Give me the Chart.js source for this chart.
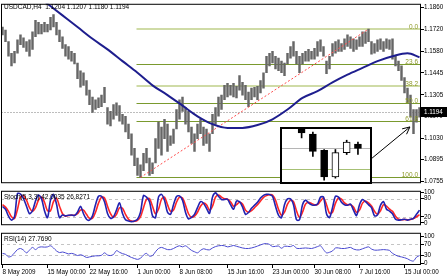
<!DOCTYPE html>
<html>
<head>
<meta charset="utf-8">
<script src="https://cdn.jsdelivr.net/npm/chart.js@4.4.1/dist/chart.umd.min.js"></script>
<style>
html,body{margin:0;padding:0;background:#fff;}
#wrap{position:relative;width:448px;height:280px;overflow:hidden;background:#fff;}
#wrap > canvas{position:absolute;left:0;}
#inset{position:absolute;left:280px;top:127px;width:88px;height:53px;border:2px solid #000;background:#fff;}
#insetChart{position:absolute;left:0;top:0;}
</style>
</head>
<body>
<div id="wrap">
  <canvas id="main" width="448" height="187" style="top:0px"></canvas>
  <canvas id="stoch" width="448" height="42" style="top:187px"></canvas>
  <canvas id="rsi" width="448" height="51" style="top:229px"></canvas>
  <div id="inset"><canvas id="insetChart" width="88" height="53"></canvas></div>
</div>
<script>
// ================= DATA =================

const symbolTitle = "USDCAD,H4  1.1204 1.1207 1.1180 1.1194";
const lastPrice = 1.1194;

// 4H bars (thinned), high / low
const highs = [
1.1737,1.1718,1.1644,1.1570,1.1582,1.1656,1.1687,1.1669,1.1644,1.1656,
1.1706,1.1780,1.1767,1.1755,1.1767,1.1755,1.1798,1.1817,1.1767,1.1718,
1.1675,1.1625,1.1613,1.1582,1.1570,1.1508,1.1459,1.1446,1.1397,1.1335,
1.1292,1.1274,1.1286,1.1304,1.1354,1.1224,1.1200,1.1243,1.1255,1.1237,
1.1181,1.1169,1.1119,1.1058,1.0965,1.0903,1.0860,1.0934,1.0965,1.0903,
1.0872,1.1027,1.1132,1.1101,1.1150,1.1119,1.1045,1.1088,1.1212,1.1274,
1.1292,1.1224,1.1200,1.1101,1.1058,1.1119,1.1150,1.1101,1.1088,1.1058,
1.1181,1.1224,1.1292,1.1304,1.1366,1.1379,1.1366,1.1379,1.1360,1.1428,
1.1385,1.1366,1.1323,1.1348,1.1354,1.1360,1.1397,1.1446,1.1551,1.1570,
1.1582,1.1551,1.1539,1.1520,1.1508,1.1570,1.1613,1.1644,1.1582,1.1551,
1.1570,1.1582,1.1595,1.1582,1.1601,1.1644,1.1656,1.1613,1.1520,1.1551,
1.1632,1.1644,1.1656,1.1632,1.1662,1.1687,1.1675,1.1662,1.1656,1.1675,
1.1706,1.1706,1.1724,1.1644,1.1632,1.1656,1.1662,1.1644,1.1662,1.1656,
1.1662,1.1551,1.1520,1.1490,1.1416,1.1348,1.1304,1.1212,1.1212,1.1224
];
const lows = [
1.1687,1.1644,1.1551,1.1490,1.1508,1.1570,1.1625,1.1607,1.1582,1.1551,
1.1595,1.1675,1.1693,1.1693,1.1706,1.1706,1.1718,1.1737,1.1687,1.1644,
1.1601,1.1551,1.1533,1.1520,1.1502,1.1409,1.1354,1.1366,1.1304,1.1243,
1.1193,1.1212,1.1224,1.1230,1.1255,1.1119,1.1107,1.1150,1.1175,1.1138,
1.1119,1.1070,1.1027,1.0922,1.0854,1.0792,1.0780,1.0823,1.0872,1.0792,
1.0804,1.0872,1.0965,1.0922,1.1027,1.0946,1.0984,1.0996,1.1088,1.1150,
1.1200,1.1119,1.1070,1.0996,1.0946,1.1027,1.1058,1.0984,1.0996,1.0946,
1.1058,1.1119,1.1169,1.1212,1.1274,1.1292,1.1304,1.1292,1.1286,1.1335,
1.1304,1.1274,1.1230,1.1274,1.1292,1.1274,1.1317,1.1348,1.1446,1.1490,
1.1508,1.1471,1.1459,1.1446,1.1428,1.1502,1.1539,1.1551,1.1502,1.1446,
1.1502,1.1520,1.1520,1.1533,1.1533,1.1551,1.1582,1.1551,1.1440,1.1471,
1.1551,1.1570,1.1582,1.1582,1.1595,1.1613,1.1601,1.1582,1.1595,1.1613,
1.1613,1.1632,1.1644,1.1564,1.1570,1.1582,1.1595,1.1582,1.1601,1.1595,
1.1533,1.1490,1.1459,1.1397,1.1317,1.1255,1.1163,1.1058,1.1132,1.1163
];

// moving average, read at every 5th bar
const maIdx  = [0,5,10,15,20,25,30,35,40,45,50,55,60,65,70,75,80,85,90,95,100,105,110,115,120,125,130,135,139];
const maVals = [1.2107,1.2033,1.1959,1.1885,1.1811,1.1737,1.1662,1.1595,1.1520,1.1446,1.1366,1.1304,1.1237,1.1169,1.1119,
                1.1095,1.1095,1.1113,1.1150,1.1212,1.1286,1.1329,1.1385,1.1434,1.1477,1.1520,1.1551,1.1570,1.1545];

// fibonacci retracement, low bar -> high bar
const fibFrom = 46, fibTo = 122;
const fibRatios = [0, 23.6, 38.2, 50, 61.8, 100];
const fibLabels = ["0.0","23.6","38.2","50.0","61.8","100.0"];

// price axis
const priceTicks = [1.1860,1.1720,1.1580,1.1445,1.1305,1.1170,1.1030,1.0895,1.0755];

// stochastic (5,3,3)
const stochMain = [
54,45,22,9,20,97,95,80,55,30,
40,72,92,80,40,17,75,94,62,17,
26,23,25,26,24,35,55,30,12,9,
23,60,88,88,70,31,15,20,42,66,
31,10,6,4,6,12,35,90,85,70,
23,17,85,94,75,35,28,60,87,89,
75,35,13,18,28,50,70,65,48,31,
85,99,88,77,77,78,60,45,72,70,
53,28,34,48,58,68,82,91,94,94,
88,55,25,17,60,79,79,60,10,10,
60,75,66,60,58,62,85,85,30,17,
50,88,85,68,60,58,62,42,24,60,
77,70,60,50,23,26,58,70,45,39,
30,12,9,10,12,9,12,15,28,42
];
const stochSignal = [
60,52,38,20,14,45,85,90,75,50,
38,50,75,85,68,40,40,70,82,55,
30,22,24,25,25,30,42,42,28,15,
15,35,65,85,82,55,30,18,28,50,
48,28,12,6,5,8,20,50,78,80,
55,30,45,78,85,60,38,42,68,85,
82,58,30,18,22,35,55,65,60,42,
55,85,92,85,80,78,70,55,60,68,
62,42,35,40,50,60,72,84,90,93,
92,75,45,25,35,62,75,70,40,18,
35,62,68,64,60,60,72,82,60,32,
35,65,82,78,66,60,60,52,35,42,
65,72,66,56,38,28,40,60,55,45,
38,22,12,10,11,10,11,14,20,27
];
const stochTicks = [0,20,80,100];
const stochLevels = [20,80];

// RSI(14)
const rsiVals = [
36,33,23,26,38,50,54,48,38,48,
58,50,58,60,59,60,64,56,45,39,
41,38,34,36,33,28,31,27,21,23,
25,27,27,29,38,30,28,32,46,40,
35,32,26,21,17,14,18,30,36,26,
28,42,54,58,54,50,50,54,60,64,
60,64,56,47,42,38,47,53,50,49,
56,61,64,65,64,60,62,65,62,59,
56,54,54,56,59,63,67,71,72,69,
61,62,63,55,62,62,61,65,55,54,
55,56,55,54,57,61,64,50,38,40,
45,56,56,54,54,56,58,52,49,49,
53,57,60,52,48,48,49,50,49,47,
36,30,25,23,20,16,10,8,22,28
];
const rsiTicks = [0,30,70,100];
const rsiLevels = [30,70];

// time axis
const timeTickIdx  = [0,15,29,45,59,75,90,104,119,134];
const timeTickText = ["8 May 2009","15 May 00:00","22 May 16:00","1 Jun 00:00","8 Jun 08:00",
                      "15 Jun 16:00","23 Jun 00:00","30 Jun 08:00","7 Jul 16:00","15 Jul 00:00"];

// zoomed inset: last candles
const insetOpen  = [1.1250,1.1231,1.1189,1.1120,1.1183,1.1205];
const insetHigh  = [1.1255,1.1236,1.1191,1.1191,1.1215,1.1210];
const insetLow   = [1.1221,1.1173,1.1112,1.1117,1.1178,1.1178];
const insetClose = [1.1234,1.1186,1.1120,1.1183,1.1210,1.1194];

// arrow from inset to last bar (bar index, price)
const arrowFrom = [123.2, 1.0903];
const arrowTo   = [135.8, 1.1101];

// ================= CHARTS =================

const FONT = '"Liberation Sans", Arial, sans-serif';
Chart.defaults.font.family = FONT;
Chart.defaults.font.size = 6.3;
Chart.defaults.color = "#000";

const barLabels = highs.map((_, i) => i);
const candleRanges = highs.map((h, i) => [lows[i], h]);

const maSeries = barLabels.map(() => null);
maIdx.forEach((idx, k) => { maSeries[idx] = maVals[k]; });

const fibHigh = highs[fibTo], fibLow = lows[fibFrom];
const trendSeries = barLabels.map(() => null);
trendSeries[fibFrom] = fibLow;
trendSeries[fibTo] = fibHigh;

const AXIS_W = 27;

const framePlugin = {
    id: "frame",
    afterDraw(c){
        const a = c.chartArea, ctx = c.ctx;
        ctx.save();
        ctx.strokeStyle = "#000";
        ctx.lineWidth = 1;
        ctx.strokeRect(a.left + 0.5, a.top + 0.5, a.right - a.left - 1, a.bottom - a.top - 1);
        ctx.restore();
    }
};

function hline(ctx, x0, x1, y){
    ctx.beginPath();
    ctx.moveTo(x0, y);
    ctx.lineTo(x1, y);
    ctx.stroke();
}

const mainOverlay = {
    id: "mainOverlay",
    beforeDatasetsDraw(c){
        const {ctx, chartArea:a, scales:{x, y}} = c;
        ctx.save();
        // current price line
        ctx.strokeStyle = "#bdbdbd";
        ctx.setLineDash([2,1]);
        hline(ctx, a.left, a.right, Math.round(y.getPixelForValue(lastPrice)) + 0.5);
        ctx.setLineDash([]);
        // fib levels
        const x0 = x.getPixelForValue(fibFrom) - 4;
        fibRatios.forEach(r => {
            const v = fibHigh - r / 100 * (fibHigh - fibLow);
            const py = Math.round(y.getPixelForValue(v));
            if(r === 0 || r === 38.2){
                ctx.strokeStyle = "#cfdba6";
                ctx.lineWidth = 2;
                hline(ctx, x0, a.right, py);
            } else {
                ctx.strokeStyle = "#7a9a2e";
                ctx.lineWidth = 1;
                hline(ctx, x0, a.right, py + 0.5);
            }
        });
        ctx.restore();
    },
    afterDatasetsDraw(c){
        const {ctx, chartArea:a, scales:{x, y}} = c;
        ctx.save();
        // fib labels
        ctx.font = "6.5px " + FONT;
        ctx.fillStyle = "#8f9a2a";
        ctx.textAlign = "right";
        ctx.textBaseline = "bottom";
        fibRatios.forEach((r, k) => {
            const v = fibHigh - r / 100 * (fibHigh - fibLow);
            ctx.fillText(fibLabels[k], a.right - 3, Math.round(y.getPixelForValue(v)) + 1);
        });
        // title
        ctx.fillStyle = "#000";
        ctx.textAlign = "left";
        ctx.textBaseline = "middle";
        ctx.font = "6.5px " + FONT;
        ctx.fillText(symbolTitle, 4, 7);
        // arrow
        const ax0 = x.getPixelForValue(arrowFrom[0]), ay0 = y.getPixelForValue(arrowFrom[1]);
        const ax1 = x.getPixelForValue(arrowTo[0]), ay1 = y.getPixelForValue(arrowTo[1]);
        ctx.strokeStyle = "#000";
        ctx.lineWidth = 1;
        ctx.beginPath();
        ctx.moveTo(ax0, ay0);
        ctx.lineTo(ax1, ay1);
        const ang = Math.atan2(ay1 - ay0, ax1 - ax0);
        [0.45, -0.45].forEach(d => {
            ctx.moveTo(ax1, ay1);
            ctx.lineTo(ax1 - 8 * Math.cos(ang + d), ay1 - 8 * Math.sin(ang + d));
        });
        ctx.stroke();
        ctx.restore();
    },
    afterDraw(c){
        const {ctx, chartArea:a, scales:{y}} = c;
        const py = Math.round(y.getPixelForValue(lastPrice));
        ctx.save();
        ctx.fillStyle = "#000";
        ctx.fillRect(a.right, py - 5, 26, 10);
        ctx.fillStyle = "#fff";
        ctx.font = "6.3px " + FONT;
        ctx.textAlign = "left";
        ctx.textBaseline = "middle";
        ctx.fillText(lastPrice.toFixed(4), a.right + 3, py);
        ctx.restore();
    }
};

new Chart(document.getElementById("main"), {
    type: "bar",
    data: {
        labels: barLabels,
        datasets: [
            {type:"line", data: maSeries, borderColor:"#1e1e8e", borderWidth:2, pointRadius:0,
             spanGaps:true, cubicInterpolationMode:"monotone", order:0},
            {type:"line", data: trendSeries, borderColor:"#ff4d4d", borderWidth:1, borderDash:[2,2],
             pointRadius:0, spanGaps:true, order:1},
            {type:"bar", data: candleRanges, backgroundColor:"#666666", barThickness:1.8, order:2}
        ]
    },
    options: {
        responsive:false,
        animation:false,
        events:[],
        layout:{padding:{left:1, top:1, bottom:1, right:0}},
        plugins:{legend:{display:false}, tooltip:{enabled:false}},
        scales:{
            x:{display:false, offset:true},
            y:{
                position:"right",
                min:1.0743, max:1.1885,
                afterBuildTicks: s => { s.ticks = priceTicks.map(v => ({value:v})); },
                afterFit: s => { s.width = AXIS_W; },
                ticks:{autoSkip:false, padding:0, callback: v => Number(v).toFixed(4)},
                grid:{drawOnChartArea:false, tickLength:3, color:"#000"},
                border:{display:false}
            }
        }
    },
    plugins:[mainOverlay, framePlugin]
});

function makeOscillator(id, datasets, yMin, yMax, ticks, levels, caption, showTime){
    const levelPlugin = {
        id: "levels_" + id,
        beforeDatasetsDraw(c){
            const {ctx, chartArea:a, scales:{y}} = c;
            ctx.save();
            ctx.strokeStyle = "#c4c4c4";
            ctx.lineWidth = 1;
            ctx.setLineDash([3,3]);
            levels.forEach(l => hline(ctx, a.left, a.right, Math.round(y.getPixelForValue(l)) + 0.5));
            ctx.restore();
        },
        afterDatasetsDraw(c){
            const ctx = c.ctx;
            ctx.save();
            ctx.fillStyle = "#000";
            ctx.font = "6.5px " + FONT;
            ctx.textAlign = "left";
            ctx.textBaseline = "middle";
            ctx.fillText(caption, 4, c.chartArea.top + 6);
            ctx.restore();
        }
    };
    const xScale = {
        display: showTime,
        offset:true,
        ticks:{
            autoSkip:false, maxRotation:0, align:"start", padding:0,
            callback: (v, i) => {
                const k = timeTickIdx.indexOf(i);
                return k >= 0 ? timeTickText[k] : undefined;
            }
        },
        grid:{drawOnChartArea:false, tickLength:3, color:"#000"},
        border:{display:false}
    };
    if(showTime) xScale.afterFit = s => { s.height = 15; };
    return new Chart(document.getElementById(id), {
        type: "line",
        data: {labels: barLabels, datasets},
        options: {
            responsive:false,
            animation:false,
            events:[],
            layout:{padding:{left:1, top:1, bottom: showTime ? 0 : 1, right:0}},
            plugins:{legend:{display:false}, tooltip:{enabled:false}},
            elements:{point:{radius:0}, line:{tension:0.3}},
            scales:{
                x: xScale,
                y:{
                    position:"right",
                    min:yMin, max:yMax,
                    afterBuildTicks: s => { s.ticks = ticks.map(v => ({value:v})); },
                    afterFit: s => { s.width = AXIS_W; },
                    ticks:{autoSkip:false, padding:0},
                    grid:{drawOnChartArea:false, tickLength:3, color:"#000"},
                    border:{display:false}
                }
            }
        },
        plugins:[levelPlugin, framePlugin]
    });
}

makeOscillator("stoch", [
    {data: stochMain, borderColor:"#2222b0", borderWidth:1.6},
    {data: stochSignal, borderColor:"#ff2626", borderWidth:1.6}
], -8, 106, stochTicks, stochLevels, "Stoch(5,3,3) 42.0035 26.8271", false);

makeOscillator("rsi", [
    {data: rsiVals, borderColor:"#4848d0", borderWidth:1}
], -6.8, 111.9, rsiTicks, rsiLevels, "RSI(14) 27.7690", true);

// ================= INSET =================

const insetLines = {
    id: "insetLines",
    beforeDatasetsDraw(c){
        const {ctx, chartArea:a, scales:{y}} = c;
        ctx.save();
        ctx.lineWidth = 1;
        ctx.strokeStyle = "#b5b5b5";
        hline(ctx, a.left, a.right, Math.round(y.getPixelForValue(lastPrice)) + 0.5);
        ctx.strokeStyle = "#a6c074";
        const fib618 = fibHigh - 0.618 * (fibHigh - fibLow);
        hline(ctx, a.left, a.right, Math.round(y.getPixelForValue(fib618)) + 0.5);
        ctx.restore();
    }
};

new Chart(document.getElementById("insetChart"), {
    type: "bar",
    data: {
        datasets: [
            {data: insetOpen.map((o, k) => ({x:k, y:[Math.min(o, insetClose[k]), Math.max(o, insetClose[k])]})),
             backgroundColor: insetOpen.map((o, k) => o > insetClose[k] ? "#000" : "#fff"),
             borderColor:"#000", borderWidth:1, borderSkipped:false, barThickness:7, grouped:false},
            {data: insetLow.map((l, k) => ({x:k, y:[l, insetHigh[k]]})),
             backgroundColor:"#000", barThickness:1, grouped:false}
        ]
    },
    options: {
        responsive:false,
        animation:false,
        events:[],
        layout:{padding:0},
        plugins:{legend:{display:false}, tooltip:{enabled:false}},
        scales:{
            x:{type:"linear", display:false, offset:false, min:-1.74, max:6.07},
            y:{display:false, min:1.1107, max:1.1244}
        }
    },
    plugins:[insetLines]
});
</script>
</body>
</html>
